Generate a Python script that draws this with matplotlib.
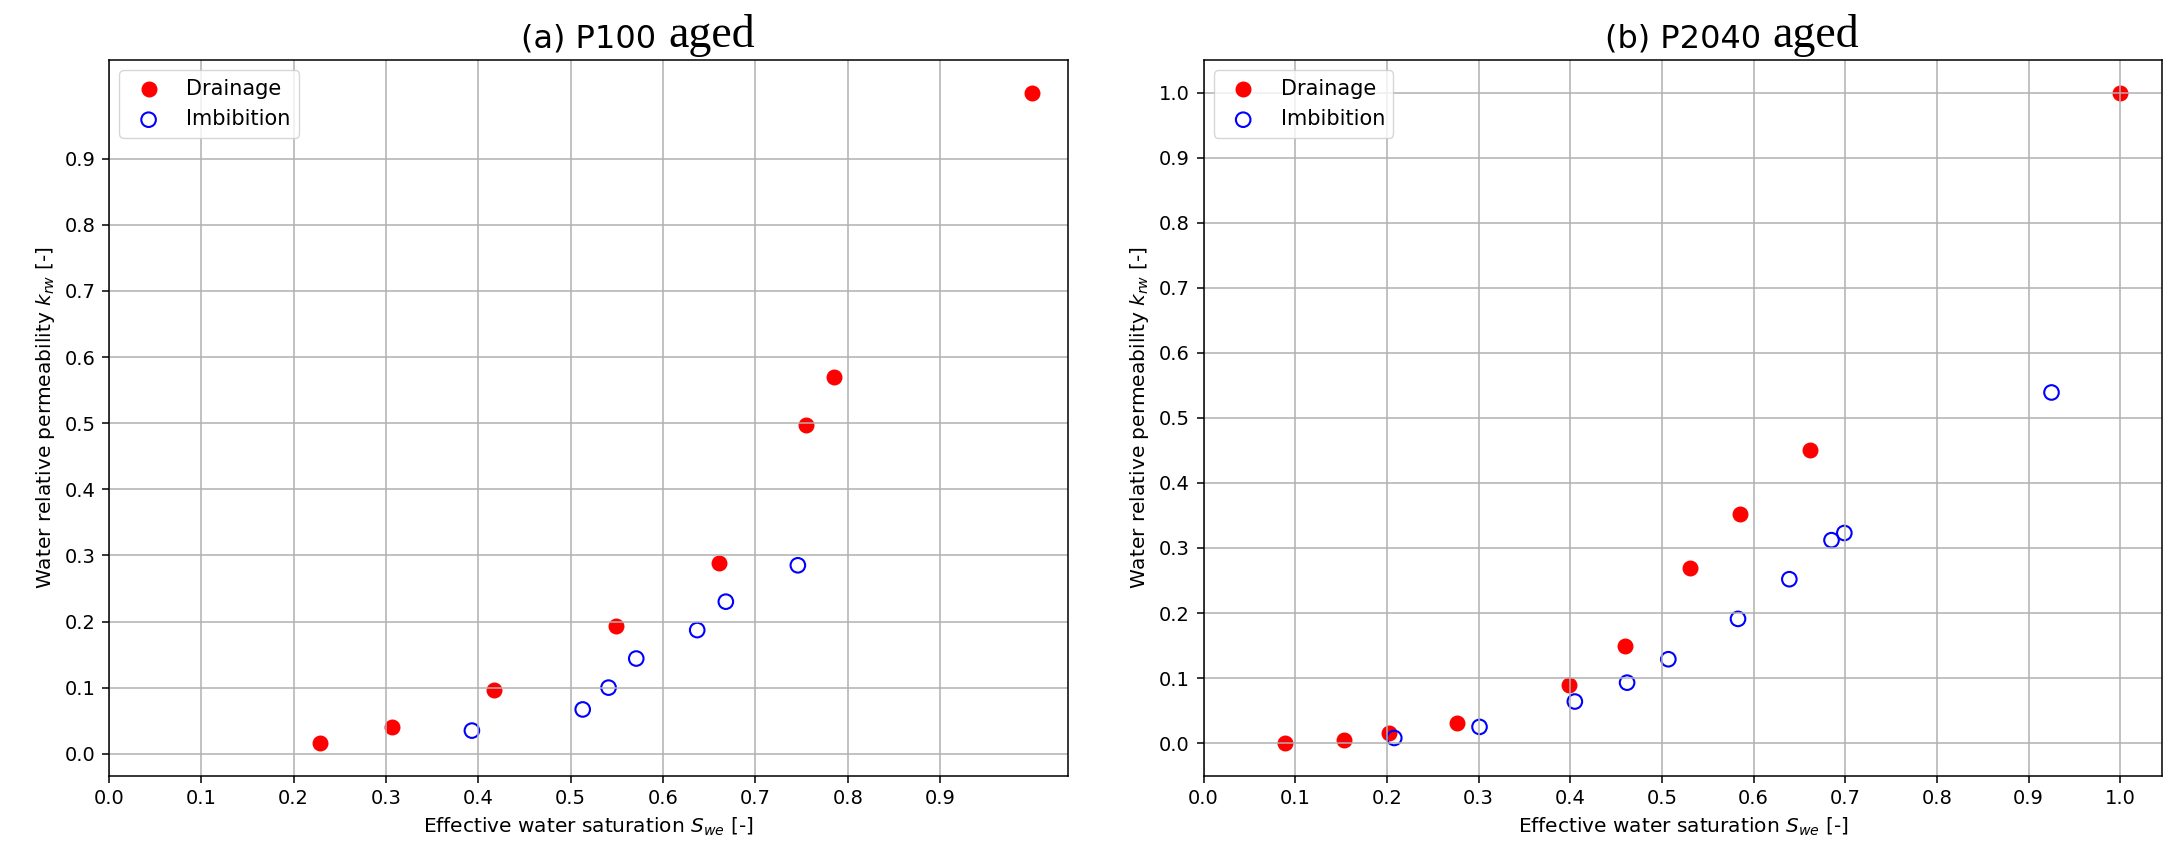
import numpy as np
import matplotlib
matplotlib.use("Agg")
import matplotlib.pyplot as plt

# ---- data ----
titles = ["(a) P100", "(b) P2040"]
title_suffix = "aged"

a_drain_x = [0.229, 0.306, 0.417, 0.549, 0.661, 0.755, 0.785, 1.0]
a_drain_y = [0.016, 0.040, 0.097, 0.193, 0.289, 0.497, 0.570, 1.0]
a_imb_x = [0.393, 0.513, 0.541, 0.571, 0.637, 0.668, 0.746]
a_imb_y = [0.035, 0.067, 0.100, 0.144, 0.187, 0.230, 0.285]

b_drain_x = [0.089, 0.153, 0.202, 0.276, 0.399, 0.460, 0.531, 0.585, 0.661, 1.0]
b_drain_y = [0.000, 0.005, 0.015, 0.031, 0.090, 0.150, 0.269, 0.352, 0.450, 1.0]
b_imb_x = [0.208, 0.301, 0.405, 0.462, 0.507, 0.583, 0.639, 0.685, 0.699, 0.925]
b_imb_y = [0.008, 0.025, 0.064, 0.093, 0.129, 0.191, 0.252, 0.312, 0.323, 0.539]

a_ticks = [0.0, 0.1, 0.2, 0.3, 0.4, 0.5, 0.6, 0.7, 0.8, 0.9]
b_ticks = [0.0, 0.1, 0.2, 0.3, 0.4, 0.5, 0.6, 0.7, 0.8, 0.9, 1.0]

xlabel = "Effective water saturation $S_{we}$ [-]"
ylabel = "Water relative permeability $k_{rw}$ [-]"

plt.rcParams.update({
    "font.family": "DejaVu Sans",
    "xtick.labelsize": 14,
    "ytick.labelsize": 14,
    "axes.labelsize": 14.5,
    "xtick.major.size": 4.9,
    "ytick.major.size": 4.9,
    "xtick.major.width": 1.1,
    "ytick.major.width": 1.1,
    "xtick.major.pad": 4.9,
    "ytick.major.pad": 4.9,
    "axes.linewidth": 1.1,
    "axes.labelpad": 5.6,
    "grid.linewidth": 1.1,
})

W, H = 2178, 860
fig = plt.figure(figsize=(W / 100, H / 100), dpi=100)
fig.patch.set_facecolor("white")

axA = fig.add_axes([109 / W, 1 - 775.7 / H, (1068 - 109) / W, (775.7 - 60) / H])
axB = fig.add_axes([1203.6 / W, 1 - 775.7 / H, (2162 - 1203.6) / W, (775.7 - 60) / H])

panels = [
    (axA, a_drain_x, a_drain_y, a_imb_x, a_imb_y, a_ticks, titles[0]),
    (axB, b_drain_x, b_drain_y, b_imb_x, b_imb_y, b_ticks, titles[1]),
]

title_texts = []
for ax, dx, dy, ix, iy, ticks, ttl in panels:
    ax.scatter(dx, dy, s=110, color="red", label="Drainage")
    ax.scatter(ix, iy, s=110, facecolors="none", edgecolors="blue",
               linewidths=1.5, label="Imbibition")
    ax.set_xlim(left=0)
    ax.set_xticks(ticks)
    ax.set_yticks(ticks)
    ax.grid(True)
    ax.set_xlabel(xlabel)
    ax.set_ylabel(ylabel)
    ax.legend(loc="upper left", fontsize=15)
    t = ax.text(0.5, 1 + 13 / 715.7, ttl, transform=ax.transAxes,
                ha="center", va="baseline", fontsize=23)
    title_texts.append((ax, t))

fig.canvas.draw()
renderer = fig.canvas.get_renderer()
for ax, t in title_texts:
    bb = t.get_window_extent(renderer)
    base_y = ax.transAxes.transform((0.5, 1 + 13 / 715.7))[1]
    fig.text((bb.x1 + 12) / W, base_y / H, title_suffix,
             family="Liberation Serif", fontsize=33,
             ha="left", va="baseline")

fig.savefig("out.png", dpi=100)
